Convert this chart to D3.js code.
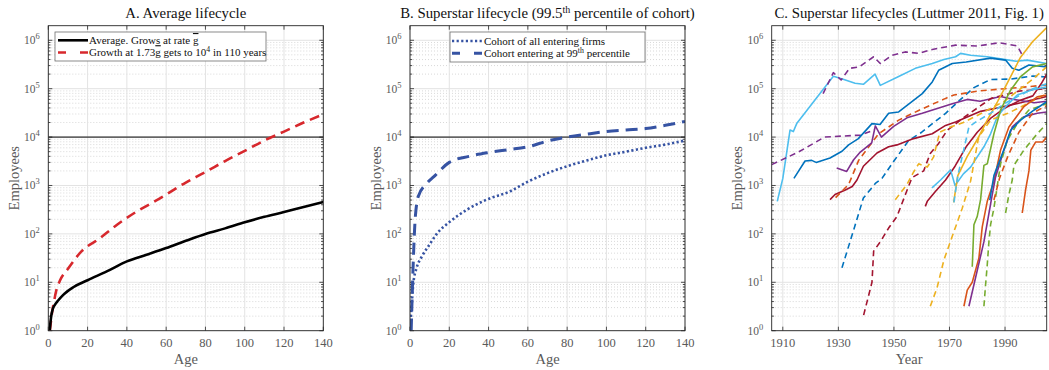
<!DOCTYPE html>
<html><head><meta charset="utf-8">
<script src="https://cdn.jsdelivr.net/npm/d3@7"></script>
<style>
body{margin:0;background:#fff}
text{font-family:"Liberation Serif","Times New Roman",serif}
</style>
</head><body>
<svg id="c" width="1049" height="370"></svg>
<script>
// ---------- DATA ----------
const yTickExps = [0, 1, 2, 3, 4, 5, 6];
const xTicksAge = [0, 20, 40, 60, 80, 100, 120, 140];
const xTicksYear = [1910, 1930, 1950, 1970, 1990];

// Panel A
const ageAvg = [0.7, 1.4, 2.4, 3.5, 5, 7.6, 12.7, 20, 30, 40, 50, 60, 70, 80, 90, 100, 110, 120, 130, 140];
const empAvg = [1, 1.9, 2.9, 3.5, 4.2, 5.5, 7.9, 11, 17, 27, 37, 51, 72, 100, 130, 173, 225, 282, 360, 455];
const ageFast = [0.8, 2, 3, 4, 6, 10, 17, 26, 35, 45, 55, 70, 80, 90, 100, 110, 120, 130, 140];
const empFast = [1, 2.5, 4.2, 6.6, 11, 19, 44, 80, 155, 290, 490, 1150, 1900, 3200, 5200, 8500, 13000, 20000, 29500];

// Panel B
const ageCohort = [0, 0.8, 1.7, 3.4, 6, 9.3, 13.6, 20.4, 29, 39, 51, 60, 70, 80, 90, 100, 110, 120, 130, 140];
const empCohort = [1, 3.2, 9.5, 20, 34, 55, 100, 180, 316, 510, 760, 1200, 1800, 2500, 3300, 4200, 5000, 6000, 7000, 8500];
const ageTop = [0.6, 1.7, 2.5, 4.2, 8.5, 12, 20, 30, 40, 50, 60, 70, 80, 90, 100, 110, 120, 130, 140];
const empTop = [1, 29, 166, 590, 1100, 1500, 3000, 4000, 4800, 5500, 6300, 8300, 10000, 11500, 13000, 14000, 15000, 17500, 21000];

// Panel C : [year, employees]
const firmLb1 = [[1908,470],[1910,1400],[1912.6,14000],[1913.8,13000],[1915,19000],[1928.2,180000],[1932,155000],[1936,129000],[1939,123000],[1943.2,200000],[1945.1,117000],[1951.7,178000],[1957.7,263000],[1963.8,331000],[1968,400000],[1972.2,457000],[1974,537000],[1977.6,490000],[1983.6,457000],[1991.4,389000],[1994,370000],[1998,389000],[2005,331000]];
const firmPd1 = [[1906,2700],[1915.6,4900],[1925,10000],[1938,11000],[1943,14000]];
const firmPd2 = [[1924.5,79000],[1928.2,214000],[1931,151000],[1934,263000],[1937.5,282000],[1942.7,457000],[1945.1,331000],[1949.3,490000],[1954.1,575000],[1958.9,537000],[1963.8,646000],[1972.2,794000],[1980,760000],[1988,890000],[1994.5,760000],[1996.5,457000]];
const firmB1 = [[1914,1400],[1918,3200],[1920.4,3300],[1922,3000],[1927,3700],[1931.3,5100],[1933.7,6900],[1937.2,9300],[1942.1,19000],[1945,18200],[1948.1,31000],[1951.7,33000],[1960.2,79000],[1963.8,138000],[1966.1,240000],[1971,331000],[1976,355000],[1984.8,427000],[1990.2,389000],[1992.6,263000],[1995,240000],[1998.6,309000],[2005,282000]];
const firmBd1 = [[1931.3,20],[1935.5,120],[1939,550],[1943.3,1100],[1945.7,1400],[1950,3200],[1955.3,8500],[1960,12600],[1968.6,31000],[1974,60000],[1978.8,105000],[1984.8,155000],[1992,158000],[2000,182000],[2005,174000]];
const firmDr1 = [[1927,510],[1928.8,650],[1932.5,810],[1935,950],[1936.7,1300],[1939,2500],[1943.9,4700],[1948.1,6300],[1951.1,6900],[1957.1,9300],[1963.8,11700],[1968.6,17400],[1972.2,20400],[1981.2,34000],[1987.2,40000],[1995.6,51000],[2005,69000]];
const firmP1 = [[1929.4,2300],[1933,1950],[1935.5,3400],[1937.9,4900],[1942,7600],[1943.3,17000],[1945.5,10000],[1949.9,16600],[1954.7,25000],[1960.2,31000],[1971,49000],[1976.4,60000],[1981,55000],[1988.4,69000],[1993.2,60000],[2000.5,51000],[2005,55000]];
const firmOd1 = [[1929,560],[1933.7,1050],[1937.3,3300],[1944.5,11700],[1951.7,22400],[1958.9,35500],[1968.6,63000],[1971.6,74000],[1980,89000],[1990,100000],[2000,112000],[2005,120000]];
const firmDrd1 = [[1939.1,2.1],[1942.1,10],[1942.7,44],[1945.1,69],[1948.1,132],[1951.1,229],[1954.1,646],[1956.5,1450],[1960.7,2000],[1963.1,4600],[1966.1,7400],[1969.2,13800],[1975,25000],[1985,63000],[1995,89000],[2005,100000]];
const firmYd1 = [[1950.5,510],[1954.7,1050],[1957.1,1900],[1958.9,2800],[1962,2400],[1964.3,3900],[1966.5,12600],[1970,15800],[1975,20000],[1980,28000],[1990,56000],[2000,158000],[2005,282000]];
const firmYd2 = [[1963.1,3.2],[1965.5,7.6],[1968,29],[1971,89],[1974.6,340],[1977.6,1230],[1980.5,10000],[1984.8,22400],[1991,31000],[1995,40000],[2005,79000]];
const firmYs1 = [[1971.5,450],[1973,1600],[1976.4,4000],[1980,8900],[1983.6,22400],[1987,50000],[1990.2,112000],[1995.6,447000],[1999.9,933000],[2005,1820000]];
const firmLb2 = [[1963.7,890],[1966.8,1300],[1970.4,2100],[1972,1000],[1975,1740],[1977.6,2400],[1980,3900],[1982.4,6300],[1984.8,11700],[1987.2,26300],[1990.2,42700],[1994.4,74000],[1999.3,93000],[2005,110000]];
const firmLbd = [[1971.6,450],[1973,1600],[1975,5000],[1977,16200],[1979.4,20400],[1985,31600],[1990,50000],[1995,71000],[2000,100000],[2005,126000]];
const firmOs1 = [[1975.2,3.2],[1976.4,6.9],[1978.2,10],[1980.6,32],[1981.8,140],[1983.6,470],[1986,1230],[1988.4,5400],[1991.4,16200],[1996.8,42700],[2001.6,68000],[2005,74000]];
const firmP2 = [[1977,3.2],[1982.4,69],[1985.4,650],[1986.6,1500],[1989.6,5400],[1992.6,16200],[1996.8,26300],[2001.6,31000],[2005,33000]];
const firmG1 = [[1978.2,21],[1978.8,155],[1980,230],[1981.2,510],[1982.4,2600],[1983.6,2800],[1986,11700],[1988.4,36300],[1992,93000],[1995.6,178000],[1999.9,282000],[2005,331000]];
const firmGd1 = [[1982.4,3.2],[1983,8.9],[1983.6,23],[1984.2,69],[1984.8,155],[1986,340],[1988.4,2800],[1990.8,8500],[1994.4,19000],[1998.6,36300],[2005,49000]];
const firmGd2 = [[1990.2,270],[1991.4,650],[1992.6,1300],[1993.2,2600],[1996.8,5400],[2001.6,11700],[2005,19000]];
const firmOs2 = [[1996.2,270],[1997.4,810],[1998.6,2000],[1999.3,5400],[2001,7900],[2003.5,7900],[2005,10000]];
const firmB2 = [[1984.5,500],[1986,1600],[1990,6300],[1992,13800],[1995.6,22400],[2000.5,36300],[2005,54000]];
const firmDr2 = [[1961.3,370],[1962,470],[1965,760],[1968.6,1300],[1972,2500],[1976,6300],[1980,12600],[1985,25000],[1990,40000],[1995,56000],[2000,71000],[2003,126000],[2005,200000]];
const firmOd2 = [[1986,500],[1988,1400],[1991,4000],[1995,12600],[2000,31600],[2005,44700]];

// ---------- DRAWING ----------
const C = {blue:"#0072BD", orange:"#D95319", yellow:"#EDB120", purple:"#7E2F8E", green:"#77AC30", lblue:"#4DBEEE", dred:"#A2142F"};
const svg = d3.select("#c");
const yTop = 25.7, yBot = 330.7;
const y = d3.scaleLog().domain([1, 2e6]).range([yBot, yTop]);
const labelCol = "#5a5a5a";
const legendFont = 11;

function panel(left, right, xDomain, xTicks, title, xlabel, id) {
  const x = d3.scaleLinear().domain(xDomain).range([left, right]);
  const g = svg.append("g");
  g.append("clipPath").attr("id", id).append("rect")
    .attr("x", left).attr("y", yTop).attr("width", right - left).attr("height", yBot - yTop);
  const minors = [];
  yTickExps.forEach(e => { for (let k = 2; k <= 9; k++) { const v = k * Math.pow(10, e); if (v < 2e6) minors.push(v); } });
  g.selectAll(".mg").data(minors).enter().append("line")
    .attr("x1", left).attr("x2", right).attr("y1", d => y(d)).attr("y2", d => y(d))
    .attr("stroke", "#cfcfcf").attr("stroke-width", 0.8).attr("stroke-dasharray", "1,2");
  g.selectAll(".gy").data(yTickExps).enter().append("line")
    .attr("x1", left).attr("x2", right).attr("y1", d => y(Math.pow(10, d))).attr("y2", d => y(Math.pow(10, d)))
    .attr("stroke", "#e3e3e3").attr("stroke-width", 1);
  g.selectAll(".gx").data(xTicks).enter().append("line")
    .attr("x1", d => x(d)).attr("x2", d => x(d)).attr("y1", yTop).attr("y2", yBot)
    .attr("stroke", "#e3e3e3").attr("stroke-width", 1);
  const tk = g.append("g").attr("stroke", "#262626").attr("stroke-width", 0.8);
  xTicks.forEach(d => {
    tk.append("line").attr("x1", x(d)).attr("x2", x(d)).attr("y1", yBot).attr("y2", yBot - 4);
    tk.append("line").attr("x1", x(d)).attr("x2", x(d)).attr("y1", yTop).attr("y2", yTop + 4);
  });
  yTickExps.forEach(e => {
    const yy = y(Math.pow(10, e));
    tk.append("line").attr("x1", left).attr("x2", left + 4).attr("y1", yy).attr("y2", yy);
    tk.append("line").attr("x1", right).attr("x2", right - 4).attr("y1", yy).attr("y2", yy);
  });
  minors.forEach(v => {
    const yy = y(v);
    tk.append("line").attr("x1", left).attr("x2", left + 2.2).attr("y1", yy).attr("y2", yy);
    tk.append("line").attr("x1", right).attr("x2", right - 2.2).attr("y1", yy).attr("y2", yy);
  });
  xTicks.forEach(d => {
    g.append("text").attr("x", x(d)).attr("y", 347).attr("text-anchor", "middle")
      .attr("font-size", 12.5).attr("fill", labelCol).text(d);
  });
  yTickExps.forEach(e => {
    const t = g.append("text").attr("x", left - 8.5).attr("y", y(Math.pow(10, e)) + 4)
      .attr("text-anchor", "end").attr("font-size", 11.5).attr("fill", labelCol);
    t.append("tspan").text("10");
    t.append("tspan").attr("dy", -5).attr("font-size", 8.5).text(e);
  });
  g.append("text").attr("x", (left + right) / 2).attr("y", 363.5).attr("text-anchor", "middle")
    .attr("font-size", 14.5).attr("fill", labelCol).text(xlabel);
  g.append("text").attr("transform", `translate(${left - 29.5},${(yTop + yBot) / 2}) rotate(-90)`)
    .attr("text-anchor", "middle").attr("font-size", 14.5).attr("fill", labelCol).text("Employees");
  const tt = g.append("text").attr("x", (left + right) / 2).attr("y", 17.5).attr("text-anchor", "middle")
    .attr("font-size", 14.8).attr("fill", "#111");
  title(tt);
  const plot = g.append("g").attr("clip-path", `url(#${id})`);
  return {x, g, plot, left, right};
}
function frame(p) {
  p.g.append("rect").attr("x", p.left).attr("y", yTop).attr("width", p.right - p.left).attr("height", yBot - yTop)
    .attr("fill", "none").attr("stroke", "#262626").attr("stroke-width", 0.9);
}

// Panel A
const pA = panel(48.3, 323.3, [0, 140], xTicksAge, t => t.text("A. Average lifecycle"), "Age", "clipA");
pA.plot.append("line").attr("x1", pA.left).attr("x2", pA.right).attr("y1", y(1e4)).attr("y2", y(1e4))
  .attr("stroke", "#000").attr("stroke-width", 1);
const lineA = d3.line().x(d => pA.x(d[0])).y(d => y(d[1])).curve(d3.curveMonotoneX);
pA.plot.append("path").attr("d", lineA(d3.zip(ageFast, empFast))).attr("fill", "none")
  .attr("stroke", "#d7282d").attr("stroke-width", 2.6).attr("stroke-dasharray", "10,6");
pA.plot.append("path").attr("d", lineA(d3.zip(ageAvg, empAvg))).attr("fill", "none")
  .attr("stroke", "#000").attr("stroke-width", 2.6);
frame(pA);

const lgA = pA.g.append("g");
lgA.append("rect").attr("x", 55).attr("y", 32).attr("width", 211).attr("height", 29)
  .attr("fill", "#fff").attr("stroke", "#6e6e6e").attr("stroke-width", 0.8);
lgA.append("line").attr("x1", 58).attr("x2", 88).attr("y1", 40.3).attr("y2", 40.3).attr("stroke", "#000").attr("stroke-width", 2.6);
lgA.append("line").attr("x1", 58).attr("x2", 88).attr("y1", 52.5).attr("y2", 52.5).attr("stroke", "#d7282d")
  .attr("stroke-width", 2.6).attr("stroke-dasharray", "8,14");
const la1 = lgA.append("text").attr("x", 89).attr("y", 44).attr("font-size", legendFont).attr("fill", "#111");
la1.append("tspan").text("Average. Grows at rate ");
la1.append("tspan").style("text-decoration", "overline").text("g");
const la2 = lgA.append("text").attr("x", 89).attr("y", 56.2).attr("font-size", legendFont).attr("fill", "#111");
la2.append("tspan").text("Growth at 1.73");
la2.append("tspan").style("text-decoration", "overline").text("g");
la2.append("tspan").text(" gets to 10");
la2.append("tspan").attr("dy", -4).attr("font-size", 7.8).text("4");
la2.append("tspan").attr("dy", 4).text(" in 110 years");

// Panel B
const pB = panel(410, 685, [0, 140], xTicksAge, t => {
  t.append("tspan").text("B. Superstar lifecycle (99.5");
  t.append("tspan").attr("dy", -5).attr("font-size", 10).text("th");
  t.append("tspan").attr("dy", 5).text(" percentile of cohort)");
}, "Age", "clipB");
pB.plot.append("line").attr("x1", pB.left).attr("x2", pB.right).attr("y1", y(1e4)).attr("y2", y(1e4))
  .attr("stroke", "#000").attr("stroke-width", 1);
const lineB = d3.line().x(d => pB.x(d[0])).y(d => y(d[1])).curve(d3.curveMonotoneX);
const blueB = "#3653a3";
pB.plot.append("path").attr("d", lineB(d3.zip(ageCohort, empCohort))).attr("fill", "none")
  .attr("stroke", blueB).attr("stroke-width", 2.6).attr("stroke-dasharray", "2.2,2.4");
pB.plot.append("path").attr("d", lineB(d3.zip(ageTop, empTop))).attr("fill", "none")
  .attr("stroke", blueB).attr("stroke-width", 3).attr("stroke-dasharray", "12,7");
frame(pB);
const lgB = pB.g.append("g");
lgB.append("rect").attr("x", 450).attr("y", 32).attr("width", 195).attr("height", 30)
  .attr("fill", "#fff").attr("stroke", "#6e6e6e").attr("stroke-width", 0.8);
lgB.append("line").attr("x1", 452).attr("x2", 482).attr("y1", 41).attr("y2", 41).attr("stroke", blueB)
  .attr("stroke-width", 2.6).attr("stroke-dasharray", "2.2,2.4");
lgB.append("line").attr("x1", 452).attr("x2", 482).attr("y1", 53.3).attr("y2", 53.3).attr("stroke", blueB)
  .attr("stroke-width", 3).attr("stroke-dasharray", "8,14");
lgB.append("text").attr("x", 484).attr("y", 44.7).attr("font-size", legendFont).attr("fill", "#111").text("Cohort of all entering firms");
const lb2t = lgB.append("text").attr("x", 484).attr("y", 57).attr("font-size", legendFont).attr("fill", "#111");
lb2t.append("tspan").text("Cohort entering at 99");
lb2t.append("tspan").attr("dy", -4).attr("font-size", 7.8).text("th");
lb2t.append("tspan").attr("dy", 4).text(" percentile");

// Panel C
const pC = panel(771.7, 1046.7, [1906, 2005], xTicksYear, t => t.text("C. Superstar lifecycles (Luttmer 2011, Fig. 1)"), "Year", "clipC");
const lineC = d3.line().x(d => pC.x(d[0])).y(d => y(d[1]));
const seriesC = [
  {d: firmLb1, c: C.lblue, dash: false},
  {d: firmPd1, c: C.purple, dash: true},
  {d: firmPd2, c: C.purple, dash: true},
  {d: firmB1, c: C.blue, dash: false},
  {d: firmBd1, c: C.blue, dash: true},
  {d: firmDr1, c: C.dred, dash: false},
  {d: firmOd1, c: C.orange, dash: true},
  {d: firmP1, c: C.purple, dash: false},
  {d: firmDrd1, c: C.dred, dash: true},
  {d: firmYd1, c: C.yellow, dash: true},
  {d: firmDr2, c: C.dred, dash: false},
  {d: firmLb2, c: C.lblue, dash: false},
  {d: firmYd2, c: C.yellow, dash: true},
  {d: firmYs1, c: C.yellow, dash: false},
  {d: firmLbd, c: C.lblue, dash: true},
  {d: firmOs1, c: C.orange, dash: false},
  {d: firmP2, c: C.purple, dash: false},
  {d: firmG1, c: C.green, dash: false},
  {d: firmGd1, c: C.green, dash: true},
  {d: firmB2, c: C.blue, dash: false},
  {d: firmOd2, c: C.orange, dash: true},
  {d: firmGd2, c: C.green, dash: true},
  {d: firmOs2, c: C.orange, dash: false}
];
seriesC.forEach(s => {
  pC.plot.append("path").attr("d", lineC(s.d)).attr("fill", "none").attr("stroke", s.c)
    .attr("stroke-width", 1.6).attr("stroke-linejoin", "round")
    .attr("stroke-dasharray", s.dash ? "6,4" : null);
});
frame(pC);
</script>
</body></html>
